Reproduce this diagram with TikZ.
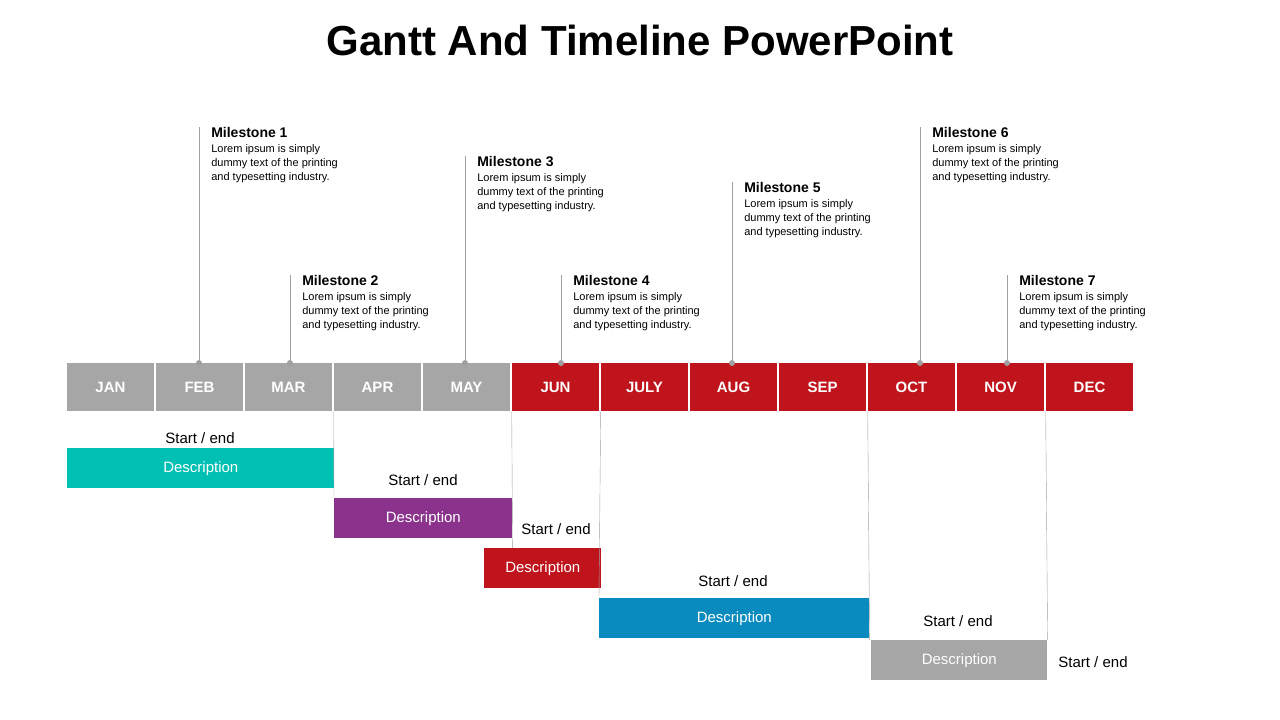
\documentclass[tikz,border=0pt]{standalone}
\usepackage{fontspec}
\setmainfont{Liberation Sans}
\usetikzlibrary{positioning}
\definecolor{mgray}{HTML}{A6A6A6}
\definecolor{mred}{HTML}{C0141C}
\definecolor{mteal}{HTML}{00BFB3}
\definecolor{mpurple}{HTML}{8B338C}
\definecolor{mblue}{HTML}{0A8BC0}
\definecolor{mline}{HTML}{A0A0A0}
\begin{document}
\begin{tikzpicture}[x=1pt,y=-1pt,semithick]
 \tikzstyle{month}=[minimum width=87pt,minimum height=48pt,inner sep=0pt,text=white,font=\fontsize{15}{15}\selectfont\bfseries]
 \tikzstyle{bar}=[anchor=north west,inner sep=0pt,minimum height=40pt,text=white,font=\fontsize{15}{15}\selectfont]
 \tikzstyle{se}=[font=\fontsize{15}{15}\selectfont]
 \tikzstyle{dot}=[circle,fill=mline,inner sep=0pt,minimum size=6pt]
 \tikzstyle{ms}=[anchor=north west,align=left,inner sep=0pt,font=\fontsize{11}{14}\selectfont]
 \useasboundingbox (0,0) rectangle (1280,720);
 \node[font=\fontsize{42}{42}\selectfont\bfseries] (title) at (640,40) {Gantt And Timeline PowerPoint};
 % months
 \foreach \m [count=\i from 0] in {JAN,FEB,MAR,APR,MAY,JUN,JULY,AUG,SEP,OCT,NOV,DEC}{
   \ifnum\i<5 \def\c{mgray}\else\def\c{mred}\fi
   \node[month,fill=\c] (m\i) at (110.5+89*\i,387) {\m};
 }
 % milestones
 \foreach \n/\x/\t in {1/199/127,2/290/275,3/465/156,4/561/275,5/732/182,6/920/127,7/1007/275}{
   \node[dot] (d\n) at (\x,363) {};
   \coordinate (t\n) at (\x,\t);
   \draw[mline] (t\n) -- (d\n);
   \node[ms] (l\n) at (\x+12,\t) {{\fontsize{14}{14}\selectfont\bfseries Milestone \n}\\[1pt]Lorem ipsum is simply\\dummy text of the printing\\and typesetting industry.};
 }
 % bars
 \node[bar,fill=mteal,minimum width=267pt] (b1) at (67,448) {Description};
 \node[bar,fill=mpurple,minimum width=178pt] (b2) at (334,498) {Description};
 \node[bar,fill=mred,minimum width=117pt] (b3) at (484,548) {Description};
 \node[bar,fill=mblue,minimum width=270pt] (b4) at (599,598) {Description};
 \node[bar,fill=mgray,minimum width=176pt] (b5) at (871,640) {Description};
 \node[se] (s1) at (200,438) {Start / end};
 \node[se] (s2) at (423,480) {Start / end};
 \node[se] (s3) at (556,529) {Start / end};
 \node[se] (s4) at (733,581) {Start / end};
 \node[se] (s5) at (958,621) {Start / end};
 \node[se] (s6) at (1093,662) {Start / end};
 % guide lines
 \draw[mline,thin] (m3.south west) -- (b2.north west);
 \draw[mline,thin] (m5.south west) -- (b2.north east |- b3.north);
 \draw[mline,thin] (m6.south west) -- (b4.north west);
 \draw[mline,thin] (m9.south west) -- (b4.north east |- b5.north);
 \draw[mline,thin] (m11.south west) -- (b5.north east);
\end{tikzpicture}
\end{document}
